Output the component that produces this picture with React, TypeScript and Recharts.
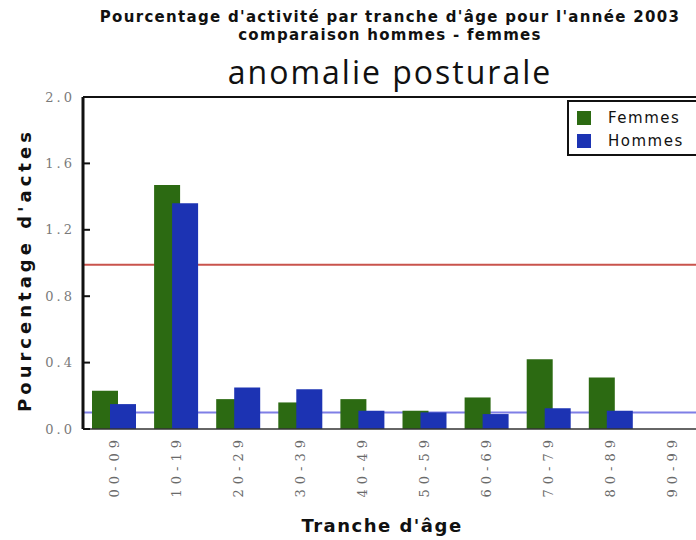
import React from "react";
import { BarChart, Bar, XAxis, YAxis, ReferenceLine } from "recharts";

const categories = ["00-09", "10-19", "20-29", "30-39", "40-49", "50-59", "60-69", "70-79", "80-89", "90-99"];
const femmes = [0.23, 1.47, 0.18, 0.16, 0.18, 0.11, 0.19, 0.42, 0.31, 0];
const hommes = [0.15, 1.36, 0.25, 0.24, 0.11, 0.10, 0.09, 0.125, 0.11, 0];
const yTicks = [0, 0.4, 0.8, 1.2, 1.6, 2.0];
const refFemmes = 0.99;
const refHommes = 0.1;

const title1 = "Pourcentage d'activité par tranche d'âge pour l'année 2003";
const title2 = "comparaison hommes - femmes";
const subtitle = "anomalie posturale";
const yTitle = "Pourcentage d'actes";
const xTitle = "Tranche d'âge";

const GREEN = "#2c6a12";
const BLUE = "#1c33b3";

const data = categories.map((c, i) => ({ cat: c, Femmes: femmes[i], Hommes: hommes[i] }));

const YTick = (props: any) => {
  const { x, y, payload } = props;
  return (
    <g>
      <text x={x} y={y} dy="0.35em" textAnchor="end" fill="#7a7a7a" fontFamily="'DejaVu Serif', serif" fontSize={13} letterSpacing={3}>
        {Number(payload.value).toFixed(1)}
      </text>
      <line x1={x + 8} x2={x + 15} y1={y} y2={y} stroke="#111" strokeWidth={2} />
    </g>
  );
};

const XTick = (props: any) => {
  const { x, y, payload } = props;
  return (
    <text
      x={x}
      y={y}
      dy="0.35em"
      textAnchor="end"
      transform={`rotate(-90, ${x}, ${y})`}
      fill="#6a6a6a"
      fontFamily="'DejaVu Serif', serif"
      fontSize={13}
      letterSpacing={5}
    >
      {payload.value}
    </text>
  );
};

export default function App() {
  return (
    <div
      style={{
        position: "absolute",
        left: 0,
        top: 0,
        width: 696,
        height: 540,
        overflow: "hidden",
        background: "#fff",
      }}
    >
      <div
        style={{
          position: "absolute",
          left: 0,
          top: 8,
          width: 780,
          textAlign: "center",
          fontFamily: "'DejaVu Sans', sans-serif",
          fontWeight: "bold",
          fontSize: 15,
          letterSpacing: 1.3,
          lineHeight: "18px",
          color: "#111",
        }}
      >
        <div>{title1}</div>
        <div>{title2}</div>
      </div>
      <div
        style={{
          position: "absolute",
          left: 0,
          top: 50,
          width: 780,
          textAlign: "center",
          fontFamily: "'Open Sans', sans-serif",
          fontSize: 32,
          letterSpacing: 2,
          lineHeight: "44px",
          color: "#111",
        }}
      >
        {subtitle}
      </div>
      <BarChart
        width={740}
        height={540}
        data={data}
        margin={{ top: 97, right: 36, bottom: 41, left: 38 }}
        barSize={26}
        barGap={-8}
        style={{ position: "absolute", left: 0, top: 0 }}
      >
        <ReferenceLine y={refFemmes} stroke="#c9534c" strokeWidth={2} zIndex={100} />
        <ReferenceLine y={refHommes} stroke="#7f7fe6" strokeWidth={2} zIndex={100} />
        <ReferenceLine y={2} stroke="#111" strokeWidth={2} />
        <XAxis
          dataKey="cat"
          height={70}
          axisLine={{ stroke: "#333", strokeWidth: 1.5 }}
          tickLine={false}
          tickSize={0}
          tickMargin={6}
          interval={0}
          tick={<XTick />}
        />
        <YAxis
          width={45}
          domain={[0, 2]}
          ticks={yTicks}
          axisLine={{ stroke: "#111", strokeWidth: 3 }}
          tickLine={false}
          tickSize={0}
          tickMargin={8}
          tick={<YTick />}
        />
        <Bar dataKey="Femmes" fill={GREEN} isAnimationActive={false} />
        <Bar dataKey="Hommes" fill={BLUE} isAnimationActive={false} />
      </BarChart>
      <div
        style={{
          position: "absolute",
          left: 24,
          top: 270,
          width: 0,
          height: 0,
        }}
      >
        <div
          style={{
            position: "absolute",
            left: 0,
            top: 0,
            transform: "translate(-50%, -50%) rotate(-90deg)",
            whiteSpace: "nowrap",
            fontFamily: "'DejaVu Sans', sans-serif",
            fontWeight: "bold",
            fontSize: 18,
            letterSpacing: 4,
            color: "#111",
          }}
        >
          {yTitle}
        </div>
      </div>
      <div
        style={{
          position: "absolute",
          left: 0,
          top: 515,
          width: 764,
          textAlign: "center",
          fontFamily: "'DejaVu Sans', sans-serif",
          fontWeight: "bold",
          fontSize: 18,
          letterSpacing: 1.5,
          color: "#111",
        }}
      >
        {xTitle}
      </div>
      <div
        style={{
          position: "absolute",
          left: 567,
          top: 100,
          width: 160,
          height: 56,
          border: "2px solid #111",
          background: "#fff",
          boxSizing: "border-box",
          fontFamily: "'DejaVu Sans', sans-serif",
          fontSize: 15,
          letterSpacing: 1.5,
          color: "#111",
        }}
      >
        {[
          { name: "Femmes", color: GREEN },
          { name: "Hommes", color: BLUE },
        ].map((e, i) => (
          <div key={e.name} style={{ position: "absolute", left: 8, top: 8 + i * 23, display: "flex", alignItems: "center", height: 16 }}>
            <span style={{ display: "inline-block", width: 14, height: 14, background: e.color, marginRight: 17 }} />
            <span>{e.name}</span>
          </div>
        ))}
      </div>
    </div>
  );
}
